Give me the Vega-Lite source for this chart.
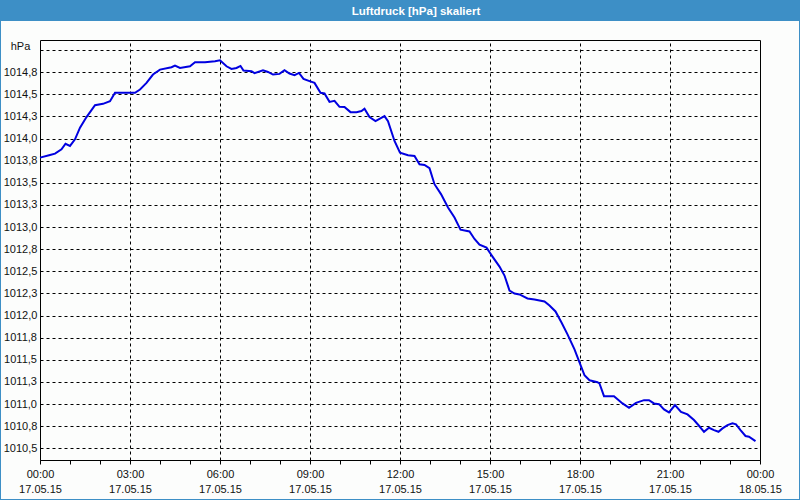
{
  "$schema": "https://vega.github.io/schema/vega-lite/v6.json",
  "width": 800,
  "height": 480,
  "autosize": "none",
  "padding": {"top": 20, "left": 0, "right": 0, "bottom": 0},
  "background": "#3d8fc6",
  "title": {"text": "Luftdruck [hPa] skaliert", "color": "#ffffff", "font": "Liberation Sans", "fontSize": 11.5, "fontWeight": "bold", "anchor": "middle", "baseline": "alphabetic", "offset": 4, "dx": 16, "dy": 10},
  "config": {
    "view": {"fill": "#fcfdfc", "stroke": "#3d8fc6", "strokeWidth": 2},
    "axis": {"labelFont": "Liberation Sans", "labelFontSize": 11, "labelColor": "#111111", "domainColor": "#000000", "domainWidth": 1, "tickColor": "#000000", "gridColor": "#000000", "gridDash": [3, 3], "gridWidth": 1, "gridOpacity": 1}
  },
  "data": {"values": [
    {"t": "2015-05-17T00:00", "v": 1013.784},
    {"t": "2015-05-17T00:20", "v": 1013.814},
    {"t": "2015-05-17T00:30", "v": 1013.829},
    {"t": "2015-05-17T00:43", "v": 1013.878},
    {"t": "2015-05-17T00:51", "v": 1013.941},
    {"t": "2015-05-17T01:00", "v": 1013.916},
    {"t": "2015-05-17T01:10", "v": 1013.991},
    {"t": "2015-05-17T01:20", "v": 1014.122},
    {"t": "2015-05-17T01:33", "v": 1014.242},
    {"t": "2015-05-17T01:50", "v": 1014.377},
    {"t": "2015-05-17T02:06", "v": 1014.392},
    {"t": "2015-05-17T02:20", "v": 1014.422},
    {"t": "2015-05-17T02:30", "v": 1014.516},
    {"t": "2015-05-17T03:10", "v": 1014.516},
    {"t": "2015-05-17T03:20", "v": 1014.554},
    {"t": "2015-05-17T03:33", "v": 1014.628},
    {"t": "2015-05-17T03:46", "v": 1014.723},
    {"t": "2015-05-17T04:00", "v": 1014.779},
    {"t": "2015-05-17T04:23", "v": 1014.805},
    {"t": "2015-05-17T04:30", "v": 1014.824},
    {"t": "2015-05-17T04:40", "v": 1014.797},
    {"t": "2015-05-17T05:00", "v": 1014.816},
    {"t": "2015-05-17T05:10", "v": 1014.861},
    {"t": "2015-05-17T05:30", "v": 1014.861},
    {"t": "2015-05-17T05:50", "v": 1014.873},
    {"t": "2015-05-17T06:00", "v": 1014.884},
    {"t": "2015-05-17T06:13", "v": 1014.816},
    {"t": "2015-05-17T06:23", "v": 1014.786},
    {"t": "2015-05-17T06:33", "v": 1014.797},
    {"t": "2015-05-17T06:41", "v": 1014.820},
    {"t": "2015-05-17T06:47", "v": 1014.768},
    {"t": "2015-05-17T07:03", "v": 1014.760},
    {"t": "2015-05-17T07:09", "v": 1014.738},
    {"t": "2015-05-17T07:26", "v": 1014.771},
    {"t": "2015-05-17T07:36", "v": 1014.752},
    {"t": "2015-05-17T07:46", "v": 1014.723},
    {"t": "2015-05-17T07:59", "v": 1014.730},
    {"t": "2015-05-17T08:09", "v": 1014.771},
    {"t": "2015-05-17T08:19", "v": 1014.734},
    {"t": "2015-05-17T08:29", "v": 1014.715},
    {"t": "2015-05-17T08:38", "v": 1014.741},
    {"t": "2015-05-17T08:47", "v": 1014.673},
    {"t": "2015-05-17T08:59", "v": 1014.648},
    {"t": "2015-05-17T09:09", "v": 1014.628},
    {"t": "2015-05-17T09:21", "v": 1014.516},
    {"t": "2015-05-17T09:29", "v": 1014.509},
    {"t": "2015-05-17T09:39", "v": 1014.414},
    {"t": "2015-05-17T09:49", "v": 1014.426},
    {"t": "2015-05-17T09:59", "v": 1014.358},
    {"t": "2015-05-17T10:09", "v": 1014.355},
    {"t": "2015-05-17T10:21", "v": 1014.298},
    {"t": "2015-05-17T10:33", "v": 1014.298},
    {"t": "2015-05-17T10:43", "v": 1014.310},
    {"t": "2015-05-17T10:49", "v": 1014.336},
    {"t": "2015-05-17T10:59", "v": 1014.242},
    {"t": "2015-05-17T11:11", "v": 1014.197},
    {"t": "2015-05-17T11:19", "v": 1014.223},
    {"t": "2015-05-17T11:29", "v": 1014.253},
    {"t": "2015-05-17T11:36", "v": 1014.197},
    {"t": "2015-05-17T11:49", "v": 1013.972},
    {"t": "2015-05-17T12:00", "v": 1013.840},
    {"t": "2015-05-17T12:16", "v": 1013.811},
    {"t": "2015-05-17T12:29", "v": 1013.803},
    {"t": "2015-05-17T12:39", "v": 1013.709},
    {"t": "2015-05-17T12:49", "v": 1013.702},
    {"t": "2015-05-17T12:59", "v": 1013.664},
    {"t": "2015-05-17T13:09", "v": 1013.484},
    {"t": "2015-05-17T13:22", "v": 1013.372},
    {"t": "2015-05-17T13:36", "v": 1013.221},
    {"t": "2015-05-17T13:49", "v": 1013.108},
    {"t": "2015-05-17T14:01", "v": 1012.970},
    {"t": "2015-05-17T14:19", "v": 1012.950},
    {"t": "2015-05-17T14:29", "v": 1012.865},
    {"t": "2015-05-17T14:39", "v": 1012.801},
    {"t": "2015-05-17T14:53", "v": 1012.767},
    {"t": "2015-05-17T15:05", "v": 1012.666},
    {"t": "2015-05-17T15:19", "v": 1012.553},
    {"t": "2015-05-17T15:29", "v": 1012.452},
    {"t": "2015-05-17T15:39", "v": 1012.283},
    {"t": "2015-05-17T15:49", "v": 1012.249},
    {"t": "2015-05-17T15:59", "v": 1012.238},
    {"t": "2015-05-17T16:15", "v": 1012.193},
    {"t": "2015-05-17T16:29", "v": 1012.181},
    {"t": "2015-05-17T16:49", "v": 1012.159},
    {"t": "2015-05-17T16:59", "v": 1012.114},
    {"t": "2015-05-17T17:11", "v": 1012.046},
    {"t": "2015-05-17T17:23", "v": 1011.922},
    {"t": "2015-05-17T17:35", "v": 1011.787},
    {"t": "2015-05-17T17:49", "v": 1011.618},
    {"t": "2015-05-17T17:59", "v": 1011.472},
    {"t": "2015-05-17T18:09", "v": 1011.325},
    {"t": "2015-05-17T18:19", "v": 1011.269},
    {"t": "2015-05-17T18:35", "v": 1011.247},
    {"t": "2015-05-17T18:39", "v": 1011.232},
    {"t": "2015-05-17T18:48", "v": 1011.089},
    {"t": "2015-05-17T19:08", "v": 1011.089},
    {"t": "2015-05-17T19:25", "v": 1011.007},
    {"t": "2015-05-17T19:38", "v": 1010.957},
    {"t": "2015-05-17T19:52", "v": 1011.014},
    {"t": "2015-05-17T20:08", "v": 1011.044},
    {"t": "2015-05-17T20:18", "v": 1011.044},
    {"t": "2015-05-17T20:28", "v": 1011.007},
    {"t": "2015-05-17T20:38", "v": 1010.999},
    {"t": "2015-05-17T20:48", "v": 1010.939},
    {"t": "2015-05-17T20:58", "v": 1010.905},
    {"t": "2015-05-17T21:10", "v": 1010.988},
    {"t": "2015-05-17T21:22", "v": 1010.912},
    {"t": "2015-05-17T21:35", "v": 1010.883},
    {"t": "2015-05-17T21:48", "v": 1010.819},
    {"t": "2015-05-17T21:58", "v": 1010.755},
    {"t": "2015-05-17T22:08", "v": 1010.687},
    {"t": "2015-05-17T22:18", "v": 1010.732},
    {"t": "2015-05-17T22:28", "v": 1010.706},
    {"t": "2015-05-17T22:37", "v": 1010.687},
    {"t": "2015-05-17T22:45", "v": 1010.725},
    {"t": "2015-05-17T22:55", "v": 1010.762},
    {"t": "2015-05-17T23:05", "v": 1010.782},
    {"t": "2015-05-17T23:12", "v": 1010.770},
    {"t": "2015-05-17T23:21", "v": 1010.706},
    {"t": "2015-05-17T23:31", "v": 1010.639},
    {"t": "2015-05-17T23:38", "v": 1010.631},
    {"t": "2015-05-17T23:48", "v": 1010.593},
    {"t": "2015-05-17T23:51", "v": 1010.582}
  ]},
  "layer": [
    {
      "mark": {"type": "line", "strokeOpacity": 0},
      "encoding": {
        "x": {"field": "t", "type": "temporal", "title": null,
          "scale": {"domain": [{"year": 2015, "month": 5, "date": 17, "hours": 0}, {"year": 2015, "month": 5, "date": 18, "hours": 0}], "range": [40, 760], "nice": false},
          "axis": {"orient": "top", "offset": -20, "labels": false, "ticks": false, "grid": true, "domain": true,
            "values": [
              {"year": 2015, "month": 5, "date": 17, "hours": 0},
              {"year": 2015, "month": 5, "date": 17, "hours": 3},
              {"year": 2015, "month": 5, "date": 17, "hours": 6},
              {"year": 2015, "month": 5, "date": 17, "hours": 9},
              {"year": 2015, "month": 5, "date": 17, "hours": 12},
              {"year": 2015, "month": 5, "date": 17, "hours": 15},
              {"year": 2015, "month": 5, "date": 17, "hours": 18},
              {"year": 2015, "month": 5, "date": 17, "hours": 21},
              {"year": 2015, "month": 5, "date": 18, "hours": 0}
            ]}},
        "y": {"field": "v", "type": "quantitative", "title": null,
          "scale": {"domain": [1010.368, 1015.113], "range": [440, 20], "nice": false, "zero": false},
          "axis": {"orient": "right", "offset": -40, "labels": false, "ticks": false, "grid": false, "domain": true}}
      }
    },
    {
      "mark": {"type": "line", "color": "#0000e0", "strokeWidth": 2},
      "encoding": {
        "x": {"field": "t", "type": "temporal", "title": null,
          "axis": {"orient": "bottom", "offset": -40, "grid": false, "ticks": true, "tickSize": 4, "labelPadding": 4, "labelBaseline": "top", "labelLineHeight": 15, "labelOverlap": false, "labelFlush": false, "labelBound": false, "labelAlign": "center",
            "values": [
              {"year": 2015, "month": 5, "date": 17, "hours": 0},
              {"year": 2015, "month": 5, "date": 17, "hours": 1},
              {"year": 2015, "month": 5, "date": 17, "hours": 2},
              {"year": 2015, "month": 5, "date": 17, "hours": 3},
              {"year": 2015, "month": 5, "date": 17, "hours": 4},
              {"year": 2015, "month": 5, "date": 17, "hours": 5},
              {"year": 2015, "month": 5, "date": 17, "hours": 6},
              {"year": 2015, "month": 5, "date": 17, "hours": 7},
              {"year": 2015, "month": 5, "date": 17, "hours": 8},
              {"year": 2015, "month": 5, "date": 17, "hours": 9},
              {"year": 2015, "month": 5, "date": 17, "hours": 10},
              {"year": 2015, "month": 5, "date": 17, "hours": 11},
              {"year": 2015, "month": 5, "date": 17, "hours": 12},
              {"year": 2015, "month": 5, "date": 17, "hours": 13},
              {"year": 2015, "month": 5, "date": 17, "hours": 14},
              {"year": 2015, "month": 5, "date": 17, "hours": 15},
              {"year": 2015, "month": 5, "date": 17, "hours": 16},
              {"year": 2015, "month": 5, "date": 17, "hours": 17},
              {"year": 2015, "month": 5, "date": 17, "hours": 18},
              {"year": 2015, "month": 5, "date": 17, "hours": 19},
              {"year": 2015, "month": 5, "date": 17, "hours": 20},
              {"year": 2015, "month": 5, "date": 17, "hours": 21},
              {"year": 2015, "month": 5, "date": 17, "hours": 22},
              {"year": 2015, "month": 5, "date": 17, "hours": 23},
              {"year": 2015, "month": 5, "date": 18, "hours": 0}
            ],
            "labelExpr": "hours(datum.value) % 3 == 0 ? [timeFormat(datum.value, '%H:%M'), timeFormat(datum.value, '%d.%m.%y')] : ''"}},
        "y": {"field": "v", "type": "quantitative", "title": null,
          "axis": {"orient": "left", "offset": -40, "values": [1010.5, 1010.75, 1011, 1011.25, 1011.5, 1011.75, 1012, 1012.25, 1012.5, 1012.75, 1013, 1013.25, 1013.5, 1013.75, 1014, 1014.25, 1014.5, 1014.75, 1015],
            "ticks": false, "tickSize": 0, "labelPadding": 20, "labelAlign": "center", "labelBaseline": "middle", "labelOverlap": false, "labelFlush": false, "labelBound": false,
            "labelOffset": {"condition": {"test": "datum.value >= 1015", "value": -4}, "value": 0},
            "labelExpr": "datum.value >= 1015 ? 'hPa' : replace(format(datum.value, '.1f'), '.', ',')",
            "grid": true}}
      }
    }
  ],
  "resolve": {"axis": {"x": "independent", "y": "independent"}}
}
